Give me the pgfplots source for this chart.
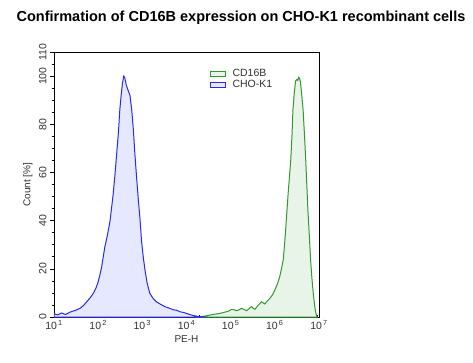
\documentclass[border=0pt]{standalone}
\usepackage{fontspec}
\setmainfont{Liberation Sans}
\usepackage{pgfplots}
\pgfplotsset{compat=1.18}
\definecolor{bline}{RGB}{40,40,240}
\definecolor{bfill}{RGB}{230,232,255}
\definecolor{gline}{RGB}{50,150,50}
\definecolor{gfill}{RGB}{232,244,232}
\definecolor{txt}{RGB}{50,50,50}
\pgfplotstableread{
x y
1.00 1.5
1.05 1.0
1.09 0.9
1.14 1.4
1.18 1.7
1.23 1.2
1.27 1.1
1.32 1.6
1.36 2.0
1.42 2.4
1.48 2.7
1.54 3.2
1.59 3.6
1.67 4.8
1.74 6.3
1.82 8.0
1.89 9.8
1.95 12.0
2.00 14.6
2.04 17.5
2.08 20.9
2.15 29
2.21 34
2.27 40
2.34 51
2.38 59
2.42 68
2.46 77
2.49 86
2.52 92
2.55 97
2.58 100
2.60 99.5
2.64 96
2.68 94
2.72 92
2.76 86
2.80 77
2.83 68
2.87 58
2.91 48.5
2.95 40
2.98 32
3.02 25
3.06 19.5
3.11 14
3.17 9.8
3.24 7.8
3.32 6.3
3.42 5.2
3.51 4.3
3.62 3.6
3.70 3.0
3.78 2.8
3.85 2.2
3.95 1.8
4.08 1.0
4.16 0.6
4.24 0.3
4.42 0
}\blue
\pgfplotstableread{
x y
4.20 0
4.30 0.1
4.42 0.4
4.53 0.8
4.65 1.2
4.76 1.5
4.84 1.9
4.91 2.2
4.97 2.6
5.02 3.2
5.08 3.0
5.13 2.6
5.19 3.0
5.25 3.6
5.30 3.1
5.36 2.6
5.42 3.5
5.47 4.3
5.51 3.6
5.55 3.2
5.62 4.8
5.70 6.3
5.74 5.8
5.77 5.4
5.83 6.6
5.89 7.8
5.95 9.3
6.00 11.2
6.06 13.8
6.11 16.7
6.15 20
6.19 23.7
6.22 30
6.25 37.5
6.30 51
6.33 58
6.36 65
6.39 76
6.41 86
6.44 93
6.47 98
6.50 98.6
6.52 98.2
6.54 99.5
6.56 99
6.58 97.6
6.61 92
6.64 86
6.67 76
6.70 65
6.75 44
6.78 34
6.81 23.7
6.84 16
6.87 9.8
6.90 5
6.93 1.5
6.96 0
}\green
\begin{document}
\begin{tikzpicture}
\useasboundingbox (-54pt,-45pt) rectangle (419pt,317pt);
\node[anchor=center, font=\fontsize{14.5}{16}\selectfont\bfseries] at (187pt,299pt) {Confirmation of CD16B expression on CHO-K1 recombinant cells};
\begin{axis}[
  at={(0,0)}, anchor=south west,
  scale only axis, width=265pt, height=265pt,
  xmin=1, xmax=7, ymin=0, ymax=110,
  axis line style={black, line width=0.8pt},
  xtick={1,2,3,4,5,6,7},
  xticklabels={10\textsuperscript{\,1},10\textsuperscript{\,2},10\textsuperscript{\,3},10\textsuperscript{\,4},10\textsuperscript{\,5},10\textsuperscript{\,6},10\textsuperscript{\,7}},
  minor xtick={1.301,1.477,1.602,1.699,1.778,1.845,1.903,1.954,
               2.301,2.477,2.602,2.699,2.778,2.845,2.903,2.954,
               3.301,3.477,3.602,3.699,3.778,3.845,3.903,3.954,
               4.301,4.477,4.602,4.699,4.778,4.845,4.903,4.954,
               5.301,5.477,5.602,5.699,5.778,5.845,5.903,5.954,
               6.301,6.477,6.602,6.699,6.778,6.845,6.903,6.954},
  ytick={0,20,40,60,80,100,110},
  minor ytick={5,10,15,25,30,35,45,50,55,65,70,75,85,90,95,105},
  xtick pos=bottom, ytick pos=left,
  xtick align=inside, ytick align=outside,
  major tick length=4pt, minor tick length=2pt,
  tick style={black, line width=0.6pt},
  ticklabel style={font=\fontsize{10.5}{12}\selectfont, text=txt},
  yticklabel style={rotate=90, anchor=south},
  /pgf/number format/assume math mode=true,
  xlabel={PE-H}, ylabel={Count [\%]},
  label style={font=\fontsize{10}{12}\selectfont, text=txt},
  xlabel style={at={(axis description cs:0.5,0)}, anchor=north, yshift=-15pt},
  ylabel style={at={(axis description cs:0,0.5)}, anchor=south, yshift=18pt},
  legend style={at={(axis description cs:0.575,0.95)}, anchor=north west, draw=none, fill=none,
    font=\fontsize{10.5}{12}\selectfont, text=txt, row sep=-2pt,
    /tikz/every odd column/.append style={column sep=5pt}},
  legend cell align=left,
  legend image code/.code={\draw[#1] (-4pt,-2.5pt) rectangle (11pt,2.5pt);},
]
\addplot[draw=gline, fill=gfill, line width=1pt] table[x=x,y=y] {\green} \closedcycle;
\addlegendentry{CD16B}
\addplot[draw=bline, fill=bfill, line width=1pt] table[x=x,y=y] {\blue} \closedcycle;
\addlegendentry{CHO-K1}
\end{axis}
\end{tikzpicture}
\end{document}
